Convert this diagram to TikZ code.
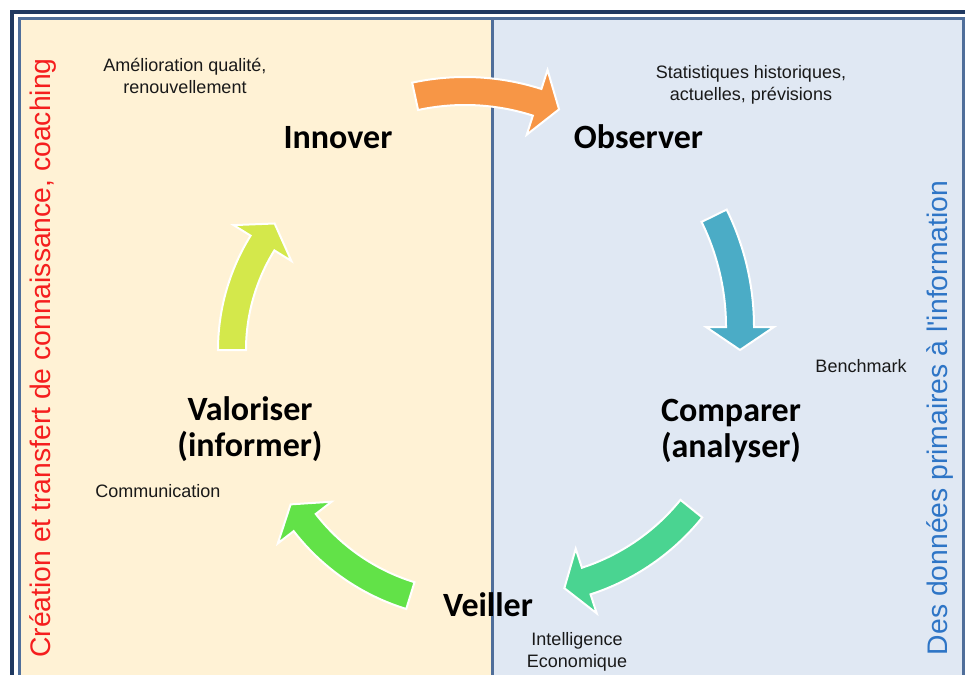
\documentclass[tikz,border=0pt]{standalone}
\usepackage{fontspec}
\setmainfont{Liberation Sans}[Ligatures=TeXOff]
\newfontfamily\stagefont{Carlito}
\usetikzlibrary{calc}
\frenchspacing

\definecolor{frameNavy}{RGB}{31,56,96}
\definecolor{frameSteel}{RGB}{79,110,154}
\definecolor{leftPanel}{RGB}{255,242,213}
\definecolor{rightPanel}{RGB}{224,232,243}
\definecolor{arrOrange}{RGB}{247,150,70}
\definecolor{arrBlue}{RGB}{75,172,198}
\definecolor{arrTeal}{RGB}{74,212,145}
\definecolor{arrGreen}{RGB}{98,226,72}
\definecolor{arrLime}{RGB}{212,232,75}
\definecolor{sideRed}{RGB}{245,30,30}
\definecolor{sideBlue}{RGB}{46,117,198}

% Curved block arrow along a circle: colour, centre, radius, start angle, end angle
\newcommand{\cyclearrow}[5]{%
  \filldraw[fill=#1, draw=white, line width=2pt, line join=miter]
    ($#2+(#4:{#3+14})$) arc[start angle=#4, end angle=#5, radius={#3+14}]
    -- ($#2+(#5:{#3+34})$)
    -- ($#2+(#5:#3)+({#5+90}:23)$)
    -- ($#2+(#5:{#3-34})$)
    -- ($#2+(#5:{#3-14})$)
    arc[start angle=#5, end angle=#4, radius={#3-14}]
    -- cycle;}

\tikzset{
  stage/.style={font=\stagefont\bfseries\fontsize{34}{36}\selectfont, align=center, inner sep=0pt},
  note/.style={font=\fontsize{18}{22.5}\selectfont, align=center, inner sep=0pt, text=black!90},
  side/.style={font=\fontsize{28.3}{34}\selectfont, rotate=90, anchor=base, inner sep=0pt}
}

\begin{document}
\begin{tikzpicture}[x=1pt, y=-1pt]
  \useasboundingbox (0,0) rectangle (965,674);
  \fill[white] (0,0) rectangle (965,674);
  \clip (0,0) rectangle (965,674);

  % two panels and their frame
  \fill[leftPanel] (19,19) rectangle (492.5,690);
  \fill[rightPanel] (492.5,19) rectangle (963,690);
  \draw[frameSteel, line width=3pt] (963,690) -- (963,19) -- (19,19) -- (19,690);
  \draw[frameSteel, line width=3pt] (492.5,19) -- (492.5,690);
  \draw[frameNavy, line width=4.5pt] (12.2,690) -- (12.2,12.2) -- (990,12.2);

  % side captions
  \node[side, text=sideRed] (leftcap) at (50,358) {Création et transfert de connaissance, coaching};
  \node[side, text=sideBlue] (rightcap) at (947,418) {Des données primaires à l'information};

  % the five arrows of the cycle
  \cyclearrow{arrOrange}{(465,327)}{236}{-102.2}{-72.2}
  \cyclearrow{arrBlue}{(488,327)}{252}{-26.2}{0}
  \cyclearrow{arrTeal}{(517,368)}{224}{38.9}{72}
  \cyclearrow{arrGreen}{(473,392)}{213}{107.1}{142.2}
  \cyclearrow{arrLime}{(435,350)}{203}{180}{211.8}

  % stages
  \node[stage] (innover) at (338,138) {Innover};
  \node[stage] (observer) at (638.5,137) {Observer};
  \node[stage] (comparer) at (731,431) {Comparer\\(analyser)};
  \node[stage] (veiller) at (488,605) {Veiller};
  \node[stage] (valoriser) at (250,429) {Valoriser\\(informer)};

  % notes
  \node[note] (amelioration) at (185,76) {Amélioration qualité,\\renouvellement};
  \node[note] (statistiques) at (751,85) {Statistiques historiques,\\actuelles, prévisions};
  \node[note] (benchmark) at (861,366) {Benchmark};
  \node[note] (communication) at (158,491) {Communication};
  \node[note] (intelligence) at (577,652) {Intelligence\\Economique};
\end{tikzpicture}
\end{document}
